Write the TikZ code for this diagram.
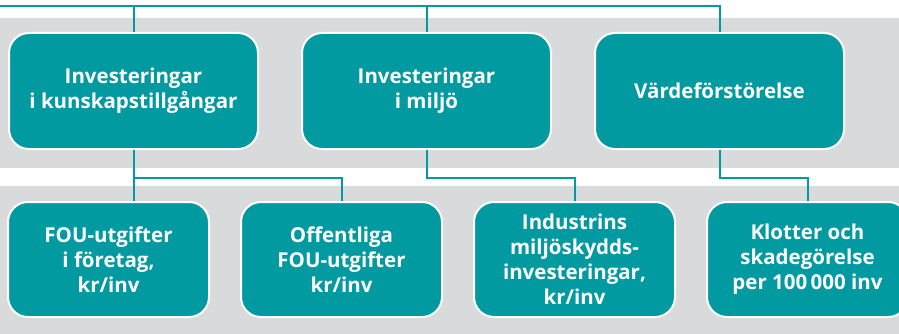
\documentclass[tikz,border=0pt]{standalone}
\usepackage{fontspec}
\setmainfont{Open Sans}
\usepackage{tikz}
\usetikzlibrary{positioning}
\definecolor{petrol}{RGB}{0,154,160}
\definecolor{bandgray}{RGB}{217,218,219}
\tikzstyle{band} = [fill=bandgray, draw=none]
\tikzstyle{topic} = [rectangle, rounded corners=20pt, minimum width=249pt, minimum height=116pt, align=center, draw=white, line width=2pt, fill=petrol, text=white, font=\bfseries\fontsize{20.5}{25}\selectfont]
\tikzstyle{measure} = [topic, minimum width=201pt, minimum height=115pt]
\tikzstyle{link} = [draw=petrol, line width=2pt]

\begin{document}
\begin{tikzpicture}[x=1pt, y=-1pt]
        \useasboundingbox (0,0) rectangle (899,334);
        \fill [band] (0,18) rectangle (899,168);
        \fill [band] (0,186) rectangle (899,334);

        \coordinate (feed) at (0,6);
        \coordinate (split) at (0,178);

        \node (kunskap) [topic] at (133.5,91) {Investeringar\\i kunskapstillgångar};
        \node (miljo) [topic, right=42pt of kunskap] {Investeringar\\i miljö};
        \node (varde) [topic, right=42pt of miljo] {Värdeförstörelse};

        \node (fou) [measure] at (108.5,259.5) {FOU-utgifter\\i företag,\\kr/inv};
        \node (offfou) [measure, right=30pt of fou] {Offentliga\\FOU-utgifter\\kr/inv};
        \node (industri) [measure, right=30pt of offfou] {Industrins\\miljöskydds-\\investeringar,\\kr/inv};
        \node (klotter) [measure, right=30pt of industri] {Klotter och\\skadegörelse\\per 100\,000 inv};

        \draw [link] (feed) -| (varde.north);
        \draw [link] (kunskap.north) -- (kunskap.north |- feed);
        \draw [link] (miljo.north) -- (miljo.north |- feed);

        \draw [link] (kunskap.south) -- (kunskap.south |- fou.north);
        \draw [link] (kunskap.south) -- (kunskap.south |- split) -| (offfou.north);
        \draw [link] (miljo.south) -- (miljo.south |- split) -| (industri.north);
        \draw [link] (varde.south) -- (varde.south |- split) -| (klotter.north);

\end{tikzpicture}
\end{document}
